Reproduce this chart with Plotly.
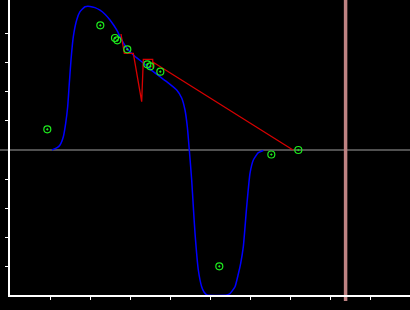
import plotly.graph_objects as go

# Smooth model curve (blue)
curve_x = [1.05, 1.167, 1.25, 1.333, 1.392, 1.442, 1.483, 1.525, 1.583, 1.667, 1.75, 1.875,
           2.0, 2.125, 2.25, 2.375, 2.5, 2.667, 2.792, 2.917, 3.083, 3.333, 3.583, 3.917, 4.167,
           4.292, 4.375, 4.433, 4.483, 4.542, 4.583, 4.625, 4.708, 4.792, 4.85, 4.925, 5.425,
           5.5, 5.625, 5.708, 5.767, 5.833, 5.917, 6.0, 6.083, 6.208, 6.333]
curve_y = [0.0, 0.069, 0.172, 0.459, 0.921, 1.493, 2.30, 3.103, 3.907, 4.483, 4.769, 4.941,
           4.952, 4.910, 4.820, 4.680, 4.480, 4.138, 3.793, 3.517, 3.276, 3.0, 2.70, 2.355, 2.069,
           1.793, 1.379, 0.803, 0.0, -1.034, -1.955, -2.862, -4.138, -4.714, -4.897, -5.0, -5.0,
           -4.948, -4.714, -4.276, -3.907, -3.334, -1.955, -0.803, -0.345, -0.093, -0.017]

# Red path
path_x = [2.775, 2.858, 3.083, 3.292, 3.333, 3.567, 3.575, 3.6, 7.075]
path_y = [4.0, 3.334, 3.334, 1.666, 3.128, 3.128, 2.828, 3.010, 0.0]

# Green sample points
pts_x = [0.933, 2.258, 2.625, 2.683, 2.933, 3.433, 3.508, 3.758, 5.233, 6.533, 7.208]
pts_y = [0.714, 4.30, 3.862, 3.783, 3.472, 2.955, 2.886, 2.70, -4.010, -0.155, 0.0]

x_ticks = [1, 2, 3, 4, 5, 6, 7, 8, 9]
y_ticks = [-4, -3, -2, -1, 1, 2, 3, 4]
x_range = [0, 10]
y_range = [-5, 5.172]
marker_line_x = 8.39

fig = go.Figure()
fig.add_trace(go.Scatter(x=curve_x, y=curve_y, mode="lines",
                         line=dict(color="rgb(0,0,255)", width=1.5, shape="spline", smoothing=0.5),
                         hoverinfo="skip"))
fig.add_trace(go.Scatter(x=path_x, y=path_y, mode="lines",
                         line=dict(color="rgb(215,0,0)", width=1.3), hoverinfo="skip"))
fig.add_trace(go.Scatter(x=pts_x, y=pts_y, mode="markers",
                         marker=dict(symbol="circle-open-dot", size=7,
                                     color="rgb(30,235,30)", line=dict(width=1.2, color="rgb(30,235,30)")),
                         hoverinfo="skip"))

fig.add_shape(type="line", xref="paper", yref="y", x0=-0.03, x1=1, y0=0, y1=0,
              line=dict(color="rgb(160,160,160)", width=1.2), layer="below")
fig.add_shape(type="line", xref="x", yref="paper", x0=marker_line_x, x1=marker_line_x,
              y0=-0.02, y1=1, line=dict(color="rgb(190,130,130)", width=3.5), layer="below")

fig.update_layout(
    width=410, height=310,
    margin=dict(l=10, r=0, t=0, b=15),
    paper_bgcolor="black", plot_bgcolor="black",
    showlegend=False,
    xaxis=dict(range=x_range, tickvals=x_ticks, showticklabels=False, ticks="outside",
               ticklen=3, tickcolor="white", tickwidth=1, showgrid=False, zeroline=False,
               showline=True, linecolor="white", linewidth=1.5),
    yaxis=dict(range=y_range, tickvals=y_ticks, showticklabels=False, ticks="outside",
               ticklen=3, tickcolor="white", tickwidth=1, showgrid=False, zeroline=False,
               showline=True, linecolor="white", linewidth=1.5),
)

fig.write_html("out.html")
